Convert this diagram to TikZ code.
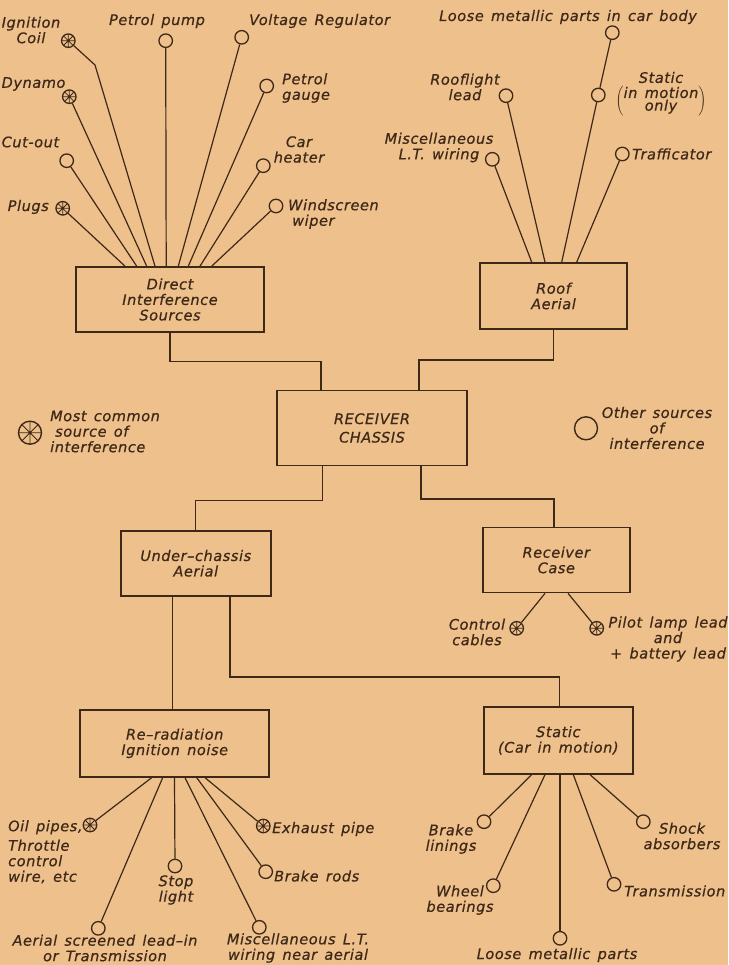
\documentclass[tikz,border=0pt]{standalone}
\usepackage{fontspec}
\newfontfamily\lett{DejaVu Sans}[LetterSpace=4,WordSpace=1.4,FakeBold=0.6]
\definecolor{bg}{RGB}{238,192,140}
\definecolor{ink}{RGB}{62,40,24}
\begin{document}
\begin{tikzpicture}[x=1pt,y=-1pt,
  every node/.style={font=\lett\itshape\fontsize{14.5}{15.5}\selectfont, text=ink, inner sep=0pt},
  box/.style={draw=ink, line width=1.7pt, align=center},
  src/.style={circle, draw=ink, line width=1.3pt, minimum size=13.5pt},
  mc/.style={src, path picture={\draw[ink,line width=0.8pt,shift={(path picture bounding box.center)}]
      (0:9)--(180:9) (45:9)--(225:9) (90:9)--(270:9) (135:9)--(315:9);}},
  bigsrc/.style={circle, draw=ink, line width=1.4pt, minimum size=23pt},
  bigmc/.style={bigsrc, path picture={\draw[ink,line width=0.9pt,shift={(path picture bounding box.center)}]
      (0:13)--(180:13) (45:13)--(225:13) (90:13)--(270:13) (135:13)--(315:13);}},
  wire/.style={draw=ink, line width=1.2pt},
  link/.style={draw=ink, line width=1.3pt},
  lab/.style={align=center}]

\fill[bg] (0,0) rectangle (728,965);
\useasboundingbox (0,0) rectangle (728,965);

% ---------- boxes ----------
\node[box, minimum width=188pt, minimum height=65pt] (dis) at (170,299.5) {Direct\\Interference\\Sources};
\node[box, minimum width=147pt, minimum height=66pt] (roof) at (553.5,296) {Roof\\Aerial};
\node[box, minimum width=190pt, minimum height=75pt] (rec) at (372,428) {RECEIVER\\[3pt]CHASSIS};
\node[box, minimum width=150pt, minimum height=65pt] (und) at (195.8,563.3) {Under–chassis\\Aerial};
\node[box, minimum width=147pt, minimum height=65pt] (rc) at (556.3,560) {Receiver\\Case};
\node[box, minimum width=189pt, minimum height=67pt] (rer) at (174.7,743.3) {Re–radiation\\Ignition noise};
\node[box, minimum width=149pt, minimum height=67pt] (sta) at (558.3,740.3) {Static\\(Car in motion)};

% ---------- box links ----------
\draw[link] (dis.south) |- (321,361.7) -- (321,0 |- rec.north);
\draw[link] (roof.south) |- (419,360) -- (419,0 |- rec.north);
\draw[link] (322.6,0 |- rec.south) -- (322.6,500.7) -| (und.north);
\draw[link] (421,0 |- rec.south) -- (421,499) -| (554,0 |- rc.north);
\draw[link] (172.7,0 |- und.south) -- (172.7,0 |- rer.north);
\draw[link] (230,0 |- und.south) |- (559.3,677) -- (559.3,0 |- sta.north);

% ---------- direct interference sources ----------
\node[mc]  (ign)   at (68.3,40.7) {};
\node[mc]  (dyn)   at (69.3,96.7) {};
\node[src] (cut)   at (66.7,160.7) {};
\node[mc]  (plug)  at (62.7,208.3) {};
\node[src] (pump)  at (165.7,40.7) {};
\node[src] (volt)  at (241.7,37.3) {};
\node[src] (gauge) at (266.7,86) {};
\node[src] (heat)  at (263.3,165.7) {};
\node[src] (wind)  at (276,206) {};

\draw[wire] (155,0 |- dis.north) -- (95,65) -- (ign);
\draw[wire] (146.7,0 |- dis.north) -- (dyn);
\draw[wire] (136.7,0 |- dis.north) -- (cut);
\draw[wire] (125,0 |- dis.north) -- (plug);
\draw[wire] (166.2,0 |- dis.north) -- (pump);
\draw[wire] (178.3,0 |- dis.north) -- (volt);
\draw[wire] (188.3,0 |- dis.north) -- (gauge);
\draw[wire] (200,0 |- dis.north) -- (heat);
\draw[wire] (211.7,0 |- dis.north) -- (wind);

\node[lab] (lign) at (31,30) {Ignition\\Coil};
\node[anchor=west] (ldyn) at (1.5,84) {Dynamo};
\node[anchor=west] (lcut) at (1.5,142) {Cut-out};
\node[anchor=east] (lplug) at (49,207) {Plugs};
\node (lpump) at (157,21) {Petrol pump};
\node[anchor=west] (lvolt) at (249,21) {Voltage Regulator};
\node[anchor=west, align=left] (lgauge) at (282,88) {Petrol\\gauge};
\node[lab] (lheat) at (299,149.5) {Car\\heater};
\node[anchor=west, align=left] (lwind) at (288,214) {Windscreen\\\hspace{4pt}wiper};

% ---------- roof aerial sources ----------
\node[src] (loose) at (612.3,32.7) {};
\node[src] (stat)  at (598.3,95) {};
\node[src] (roofl) at (506,95.7) {};
\node[src] (misc)  at (492.3,159.3) {};
\node[src] (traf)  at (622.3,154) {};

\draw[wire] (561.7,0 |- roof.north) -- (stat);
\draw[wire] (stat) -- (loose);
\draw[wire] (545,0 |- roof.north) -- (roofl);
\draw[wire] (531.7,0 |- roof.north) -- (misc);
\draw[wire] (576.7,0 |- roof.north) -- (traf);

\node (lloose) at (568,17) {Loose metallic parts in car body};
\node[lab] (lstat) at (661,94) {Static\\[2pt]$\left(\begin{tabular}{@{}c@{}}in motion\\[-3pt]only\end{tabular}\right)$};
\node[lab] (lroofl) at (465,87) {Rooflight\\lead};
\node[lab] (lmisc) at (439,147.5) {Miscellaneous\\L.T. wiring};
\node[anchor=west] (ltraf) at (632,154) {Trafficator};

% ---------- legend ----------
\node[bigmc] (legmc) at (30,432.7) {};
\node[anchor=west, align=left] (llegmc) at (50,431.5) {Most common\\\hspace{5pt}source of\\interference};
\node[bigsrc] (legsrc) at (586,428.3) {};
\node[lab] (llegsrc) at (657,428) {Other sources\\of\\interference};

% ---------- receiver case sources ----------
\node[mc] (ctrl)  at (516.7,628.3) {};
\node[mc] (pilot) at (596.7,628.3) {};
\draw[wire] (545,0 |- rc.south) -- (ctrl);
\draw[wire] (568,0 |- rc.south) -- (pilot);
\node[lab] (lctrl) at (477,632) {Control\\cables};
\node[lab] (lpilot) at (668,639) {Pilot lamp lead\\and\\+ battery lead};

% ---------- re-radiation sources ----------
\node[mc]  (oil)   at (90,825) {};
\node[src] (aer)   at (98.3,928.3) {};
\node[src] (stop)  at (175,866) {};
\node[src] (mltw)  at (259.3,927.3) {};
\node[src] (brod)  at (265.7,871.7) {};
\node[mc]  (exh)   at (263.3,826) {};

\draw[wire] (151.7,0 |- rer.south) -- (oil);
\draw[wire] (162.7,0 |- rer.south) -- (aer);
\draw[wire] (174.5,0 |- rer.south) -- (stop);
\draw[wire] (185,0 |- rer.south) -- (mltw);
\draw[wire] (196.7,0 |- rer.south) -- (brod);
\draw[wire] (205,0 |- rer.south) -- (exh);

\node[anchor=north west, align=left] (loil) at (8,820) {Oil pipes,\\[4pt]Throttle\\control\\wire, etc};
\node[lab] (laer) at (105,948) {Aerial screened lead–in\\or Transmission};
\node[lab] (lstop) at (176,890) {Stop\\light};
\node[lab] (lmltw) at (298,948) {Miscellaneous L.T.\\wiring near aerial};
\node[anchor=west] (lbrod) at (274,876) {Brake rods};
\node[anchor=west] (lexh) at (272,829) {Exhaust pipe};

% ---------- static sources ----------
\node[src] (brl) at (484,821.7) {};
\node[src] (whb) at (493.3,885.7) {};
\node[src] (lmp) at (560,938.3) {};
\node[src] (trn) at (614,884.3) {};
\node[src] (shk) at (643.3,821.7) {};

\draw[wire] (531.7,0 |- sta.south) -- (brl);
\draw[wire] (545,0 |- sta.south) -- (whb);
\draw[wire] (560,0 |- sta.south) -- (lmp);
\draw[wire] (573.3,0 |- sta.south) -- (trn);
\draw[wire] (590,0 |- sta.south) -- (shk);

\node[lab] (lbrl) at (451,839) {Brake\\linings};
\node[lab] (lwhb) at (460,900) {Wheel\\bearings};
\node (llmp) at (557,955) {Loose metallic parts};
\node[anchor=west] (ltrn) at (624,891) {Transmission};
\node[lab] (lshk) at (682,836) {Shock\\absorbers};

\end{tikzpicture}
\end{document}
